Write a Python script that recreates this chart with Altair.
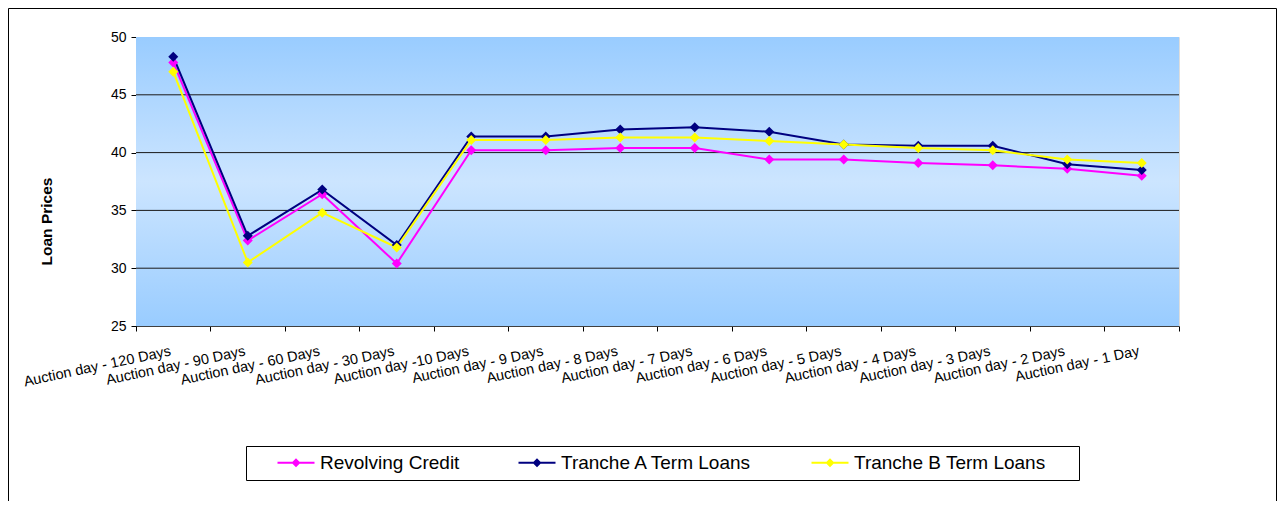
import altair as alt
import pandas as pd

categories = [
    "Auction day - 120 Days", "Auction day - 90 Days", "Auction day - 60 Days",
    "Auction day - 30 Days", "Auction day -10 Days", "Auction day - 9 Days",
    "Auction day - 8 Days", "Auction day - 7 Days", "Auction day - 6 Days",
    "Auction day - 5 Days", "Auction day - 4 Days", "Auction day - 3 Days",
    "Auction day - 2 Days", "Auction day - 1 Day",
]
series_names = ["Revolving Credit", "Tranche A Term Loans", "Tranche B Term Loans"]
series_colors = ["#FF00FF", "#000080", "#FFFF00"]
revolving = [47.8, 32.4, 36.4, 30.4, 40.2, 40.2, 40.4, 40.4, 39.4, 39.4, 39.1, 38.9, 38.6, 38.0]
tranche_a = [48.3, 32.8, 36.8, 32.0, 41.4, 41.4, 42.0, 42.2, 41.8, 40.7, 40.6, 40.6, 39.0, 38.5]
tranche_b = [47.0, 30.5, 34.8, 31.8, 41.1, 41.1, 41.3, 41.3, 41.0, 40.7, 40.4, 40.2, 39.4, 39.1]
y_ticks = [25, 30, 35, 40, 45, 50]
grid_values = [30, 35, 40, 45]

rows = []
for name, vals in zip(series_names, [revolving, tranche_a, tranche_b]):
    for c, v in zip(categories, vals):
        rows.append({"category": c, "series": name, "value": v})
df = pd.DataFrame(rows)

W, H = 1043, 289
FONT = "Liberation Sans"

yscale = alt.Scale(domain=[25, 50], nice=False, zero=False)
xscale = alt.Scale(type="band", domain=categories, paddingInner=0, paddingOuter=0)
color_scale = alt.Scale(domain=series_names, range=series_colors)

x_axis = alt.Axis(
    title=None, bandPosition=1, tickExtra=True, labelOffset=-4,
    labelAngle=-12, labelAlign="right", labelBaseline="top", labelPadding=13,
    labelFontSize=14.5, labelFont=FONT, labelColor="black", labelOverlap=False,
    labelBound=False, tickColor="black", tickSize=5, domainColor="#404040",
    grid=False,
)
y_axis = alt.Axis(
    values=y_ticks, title="Loan Prices", titleFontSize=15.5, titleFontWeight="bold",
    titleFont=FONT, titleColor="black", titleX=-90, titleY=184, titleAlign="center",
    titleBaseline="middle", titleAngle=270, grid=False, labelFontSize=14,
    labelFont=FONT, labelColor="black", tickColor="black", tickSize=5,
    domainColor="black", labelPadding=5,
)
x_enc = alt.X("category:N", sort=categories, scale=xscale, axis=x_axis)
y_enc = alt.Y("value:Q", scale=yscale, axis=y_axis)

background = alt.Chart(alt.Data(values=[{}])).mark_rect(
    color=alt.Gradient(
        gradient="linear",
        stops=[
            alt.GradientStop(color="#99CCFF", offset=0),
            alt.GradientStop(color="#CCE5FF", offset=0.5),
            alt.GradientStop(color="#99CCFF", offset=1),
        ],
        x1=0, x2=0, y1=0, y2=1,
    )
).encode(x=alt.value(0), x2=alt.value(W), y=alt.value(0), y2=alt.value(H))

grid = alt.Chart(alt.Data(values=[{"value": g} for g in grid_values])).mark_rule(
    color="#1a1a1a", strokeWidth=1
).encode(y=y_enc)

base = alt.Chart(df)
lines = base.mark_line(strokeWidth=2).encode(
    x=x_enc, y=y_enc,
    color=alt.Color("series:N", scale=color_scale, legend=None),
)

legend_path = (
    "M-3.7,-0.2L3.7,-0.2L3.7,0.2L-3.7,0.2Z "
    "M0,-0.9L0.9,0L0,0.9L-0.9,0Z"
)
pad_last = "\u00a0" * 5 + "\u200b"
points = base.mark_point(shape="diamond", filled=True, size=100, opacity=1).encode(
    x=x_enc, y=y_enc,
    color=alt.Color(
        "series:N", scale=color_scale, sort=series_names,
        legend=alt.Legend(
            title=None, orient="none", legendX=110, legendY=409,
            direction="horizontal", columns=3, symbolType=legend_path,
            symbolSize=100, symbolStrokeWidth=0, symbolOffset=33.5,
            labelOffset=14.5, labelFontSize=19, labelFont=FONT, labelColor="black",
            labelLimit=400, strokeColor="black", fillColor="white", padding=7,
            columnPadding=34,
            labelExpr=f"datum.value == '{series_names[2]}' ? datum.label + '{pad_last}' : datum.label",
        ),
    ),
)

border = alt.Chart(alt.Data(values=[{}])).mark_rect(
    fillOpacity=0, stroke="black", strokeWidth=1
).encode(x=alt.value(-127.5), x2=alt.value(W + 97.5), y=alt.value(-28.5), y2=alt.value(H + 300))

chart = alt.layer(background, grid, lines, points, border).resolve_legend(
    color="independent"
).properties(
    width=W, height=H,
    autosize=alt.AutoSizeParams(type="none"),
    padding={"left": 128, "top": 29, "right": 98, "bottom": 175},
).configure_view(stroke="#808080", strokeWidth=1.5).configure(font=FONT)

chart.save("out.html", embed_options={"renderer": "svg", "actions": False})
